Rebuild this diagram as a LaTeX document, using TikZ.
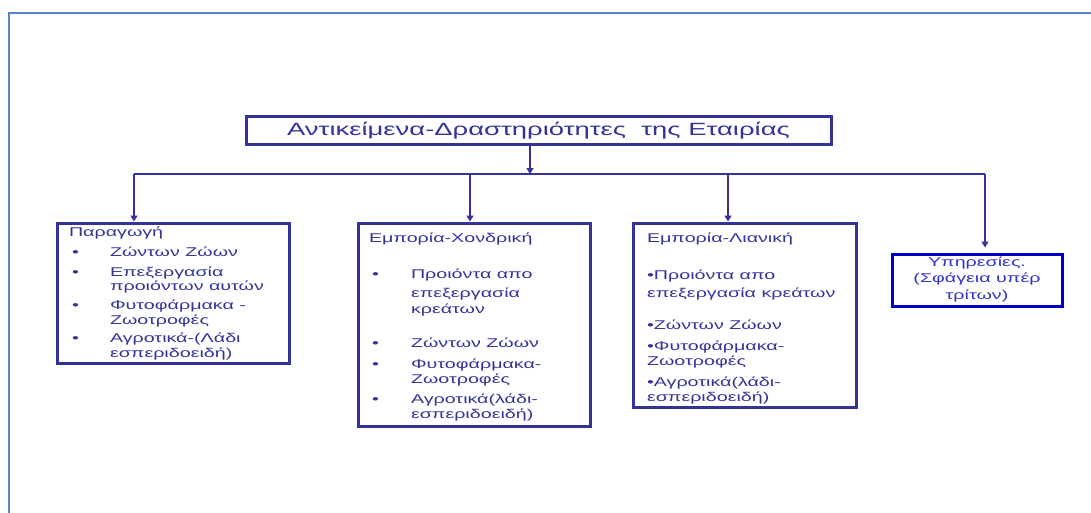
\documentclass[tikz,border=0pt]{standalone}
\usepackage{fontspec}
\setmainfont{Liberation Sans}[FakeStretch=1.55]
\usetikzlibrary{arrows.meta}
\definecolor{dblue}{HTML}{333399}
\definecolor{bblue}{HTML}{0000CC}
\definecolor{tblue}{HTML}{3333CC}
\definecolor{framecol}{HTML}{5587C4}
\newcommand\tline[4]{\node[txt] (#1) at (#2,#3) {#4};}
\begin{document}
\begin{tikzpicture}[x=1pt,y=-1pt,
  box/.style={draw=dblue, line width=3pt, inner sep=0pt, fill=white},
  txt/.style={inner sep=0pt, outer sep=0pt, anchor=base west, text=dblue, font=\fontsize{12.7}{14}\selectfont},
  wire/.style={draw=dblue, line width=1.4pt},
  conn/.style={wire, -{Triangle[length=6pt,width=7pt]}}]
\useasboundingbox (0,0) rectangle (1091,512);
% outer frame
\draw[framecol, line width=2pt] (9,520) -- (9,12.5) -- (1095,12.5);
% boxes
\node[box, minimum width=585pt, minimum height=28pt, text=dblue, font=\fontsize{17.7}{20}\selectfont] (top) at (538.5,130.5) {Αντικείμενα-Δραστηριότητες\ \ της Εταιρίας};
\node[box, minimum width=232pt, minimum height=140pt] (b1) at (173,293) {};
\node[box, minimum width=232pt, minimum height=203pt] (b2) at (474,324.5) {};
\node[box, minimum width=223pt, minimum height=184pt] (b3) at (744.5,315) {};
\node[box, draw=bblue, minimum width=170pt, minimum height=52pt, text=tblue, align=center, text depth=4pt, font=\fontsize{12.7}{16.5}\selectfont] (b4) at (977,280) {Υπηρεσίες.\\(Σφάγεια υπέρ\\τρίτων)};
% connectors
\coordinate (bus) at (530,174);
\coordinate (d1) at (134,174);
\coordinate (d2) at (470,174);
\coordinate (d3) at (728,174);
\coordinate (d4) at (985,174);
\draw[conn] (top.south -| bus) -- (bus);
\draw[wire] (d1) -- (d4);
\draw[conn] (d1) -- (d1 |- b1.north);
\draw[conn] (d2) -- (d2 |- b2.north);
\draw[conn] (d3) -- (d3 |- b3.north);
\draw[conn, shorten >=5pt] (d4) -- (d4 |- b4.north);
% box 1 text
\tline{p0}{69}{236}{Παραγωγή}
\tline{p1a}{72}{256}{•}\tline{p1}{110}{256}{Ζώντων Ζώων}
\tline{p2a}{72}{276}{•}\tline{p2}{110}{276}{Επεξεργασία}
\tline{p2b}{110}{290}{προιόντων αυτών}
\tline{p3a}{72}{309}{•}\tline{p3}{110}{309}{Φυτοφάρμακα -}
\tline{p3b}{110}{324}{Ζωοτροφές}
\tline{p4a}{72}{342}{•}\tline{p4}{110}{342}{Αγροτικά-(Λάδι}
\tline{p4b}{110}{357}{εσπεριδοειδή)}
% box 2 text
\tline{w0}{369}{242}{Εμπορία-Χονδρική}
\tline{w1a}{372}{278}{•}\tline{w1}{411}{278}{Προιόντα απο}
\tline{w1b}{411}{297}{επεξεργασία}
\tline{w1c}{411}{313}{κρεάτων}
\tline{w2a}{372}{347}{•}\tline{w2}{411}{347}{Ζώντων Ζώων}
\tline{w3a}{372}{368}{•}\tline{w3}{411}{368}{Φυτοφάρμακα-}
\tline{w3b}{411}{383}{Ζωοτροφές}
\tline{w4a}{372}{403}{•}\tline{w4}{411}{403}{Αγροτικά(λάδι-}
\tline{w4b}{411}{418}{εσπεριδοειδή)}
% box 3 text
\tline{r0}{647}{242}{Εμπορία-Λιανική}
\tline{r1}{647}{279}{•Προιόντα απο}
\tline{r1b}{647}{297}{επεξεργασία κρεάτων}
\tline{r2}{647}{329}{•Ζώντων Ζώων}
\tline{r3}{647}{350}{•Φυτοφάρμακα-}
\tline{r3b}{647}{365}{Ζωοτροφές}
\tline{r4}{647}{386}{•Αγροτικά(λάδι-}
\tline{r4b}{647}{401}{εσπεριδοειδή)}
\end{tikzpicture}
\end{document}
